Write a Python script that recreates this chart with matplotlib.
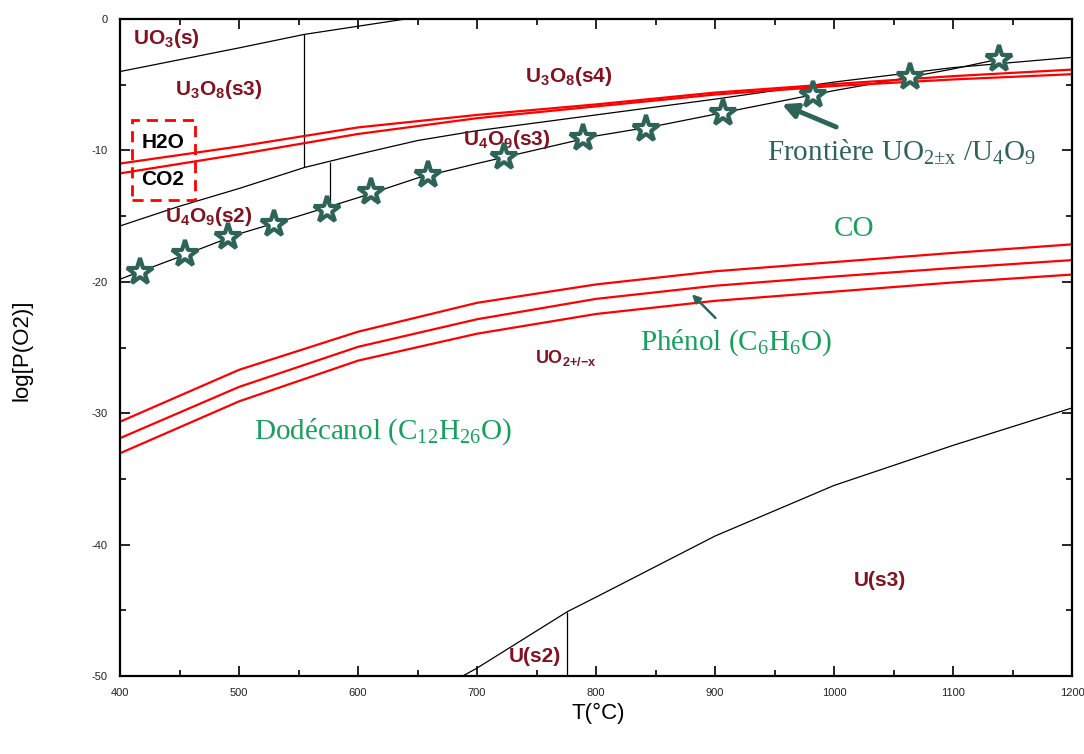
import matplotlib
matplotlib.use("Agg")
import matplotlib.pyplot as plt
from matplotlib.patches import Rectangle

# --- phase boundaries (T in degC, log P(O2)) ---
T_uo3 = [400, 500, 555, 600, 640]
logp_uo3 = [-4.0, -2.2, -1.17, -0.55, 0.0]

T_u3o8 = [400, 450, 500, 555, 600, 650, 700, 800, 900, 1000, 1100, 1200]
logp_u3o8 = [-15.75, -14.25, -12.9, -11.3, -10.3, -9.25, -8.5, -7.3, -6.1, -4.8, -3.7, -2.92]

T_u4o9 = [400, 450, 500, 550, 600, 650, 700, 750, 800, 850, 900, 950, 1000, 1050, 1100, 1139]
logp_u4o9 = [-19.8, -18.1, -16.35, -15.0, -13.6, -12.1, -11.0, -9.95, -8.9, -8.15,
             -7.25, -6.35, -5.45, -4.65, -3.8, -3.05]

T_u = [688, 700, 776, 800, 900, 1000, 1100, 1200]
logp_u = [-50.0, -49.4, -45.1, -44.0, -39.35, -35.5, -32.45, -29.6]

# vertical separators: (T, low, high)
T_sep = [555, 576.5, 776]
sep_low = [-11.3, -14.0, -50.0]
sep_high = [-1.17, -10.86, -45.1]

# experimental UO2+x / U4O9 boundary points
T_star = [417, 455, 491, 529, 574, 611, 659, 723, 789, 842, 907, 982, 1064, 1139]
logp_star = [-19.23, -17.9, -16.57, -15.6, -14.5, -13.14, -11.87, -10.53, -9.08,
             -8.4, -7.13, -5.78, -4.41, -3.04]

# gas equilibrium lines
T_gas = [400, 500, 600, 700, 800, 900, 1000, 1100, 1200]
logp_h2o = [-11.0, -9.7, -8.25, -7.3, -6.5, -5.6, -4.95, -4.35, -3.85]
logp_co2 = [-11.75, -10.3, -8.75, -7.55, -6.65, -5.75, -5.1, -4.6, -4.2]
logp_co = [-30.65, -26.7, -23.8, -21.6, -20.2, -19.2, -18.5, -17.8, -17.15]
logp_phenol = [-31.9, -28.0, -24.95, -22.85, -21.3, -20.3, -19.6, -18.95, -18.35]
logp_dodecanol = [-33.05, -29.1, -26.0, -23.95, -22.45, -21.45, -20.75, -20.05, -19.45]

DARKRED = '#82121f'
GREEN = '#17a05c'
TEAL = '#2e6457'
SERIF = 'Liberation Serif'

plt.rcParams['font.family'] = 'Liberation Sans'
plt.rcParams['axes.unicode_minus'] = False

fig = plt.figure(figsize=(10.84, 7.54), dpi=100)
ax = fig.add_axes([120 / 1084, 1 - 676 / 754, 952 / 1084, 657 / 754])

lw_b = 0.9
ax.plot(T_uo3, logp_uo3, color='black', lw=lw_b)
ax.plot(T_u3o8, logp_u3o8, color='black', lw=lw_b)
ax.plot(T_u4o9, logp_u4o9, color='black', lw=lw_b)
ax.plot(T_u, logp_u, color='black', lw=lw_b)
ax.vlines(T_sep, sep_low, sep_high, color='black', lw=lw_b)

for lp in [logp_h2o, logp_co2, logp_co, logp_phenol, logp_dodecanol]:
    ax.plot(T_gas, lp, color='red', lw=1.6)

ax.plot(T_star, logp_star, ls='none', marker='*', ms=20, mfc='white',
        mec=TEAL, mew=3, zorder=5)

# dashed box around H2O / CO2
ax.add_patch(Rectangle((410, -13.8), 53, 6.1, fill=False, ec='red', lw=2,
                       ls=(0, (4, 2.5)), zorder=4))
ax.text(436, -9.4, 'H2O', ha='center', va='center', fontsize=15,
        fontweight='bold', color='black')
ax.text(436, -12.25, 'CO2', ha='center', va='center', fontsize=15,
        fontweight='bold', color='black')

# phase labels
lab = dict(color=DARKRED, fontweight='bold', fontsize=15, va='center', ha='left')
ax.text(411, -1.45, r'UO$_{\mathregular{3}}$(s)', **lab)
ax.text(446, -5.4, r'U$_{\mathregular{3}}$O$_{\mathregular{8}}$(s3)', **lab)
ax.text(740, -4.35, r'U$_{\mathregular{3}}$O$_{\mathregular{8}}$(s4)', **lab)
ax.text(688, -9.2, r'U$_{\mathregular{4}}$O$_{\mathregular{9}}$(s3)', **lab)
ax.text(438, -15.0, r'U$_{\mathregular{4}}$O$_{\mathregular{9}}$(s2)', **lab)
ax.text(1017, -42.7, 'U(s3)', **lab)
ax.text(727, -48.55, 'U(s2)', **lab)
ax.text(749, -25.8, r'UO$_{\mathregular{2{+}/{-}x}}$', color=DARKRED, fontweight='bold',
        fontsize=13, va='center', ha='left')

# gas labels
ax.text(1017, -16.0, 'CO', color=GREEN, family=SERIF, fontsize=21, ha='center', va='center')
ax.text(837, -24.6, r'Phénol (C$_{\mathregular{6}}$H$_{\mathregular{6}}$O)', color=GREEN,
        family=SERIF, fontsize=21, ha='left', va='center')
ax.text(513, -31.4, r'Dodécanol (C$_{\mathregular{12}}$H$_{\mathregular{26}}$O)', color=GREEN,
        family=SERIF, fontsize=21, ha='left', va='center')
ax.annotate('', xy=(879, -20.8), xytext=(902, -22.9),
            arrowprops=dict(arrowstyle='-|>', color=TEAL, lw=1.8, mutation_scale=12))

ax.text(944, -10.1, r'Frontière UO$_{\mathregular{2±x}}$ /U$_{\mathregular{4}}$O$_{\mathregular{9}}$',
        color=TEAL, family=SERIF, fontsize=21, ha='left', va='center')
ax.annotate('', xy=(954, -6.4), xytext=(1004, -8.3),
            arrowprops=dict(arrowstyle='-|>', color=TEAL, lw=3.5, mutation_scale=22))

ax.set_xlim(400, 1200)
ax.set_ylim(-50, 0)
ax.set_xticks(range(400, 1201, 100))
ax.set_xticks(range(450, 1200, 100), minor=True)
ax.set_yticks(range(-50, 1, 10))
ax.set_yticks(range(-45, 0, 10), minor=True)
ax.tick_params(which='both', direction='in', top=True, right=True, colors='black',
               labelcolor='#222222', labelsize=8, width=1.2)
ax.tick_params(which='major', length=7, pad=9)
ax.tick_params(which='minor', length=4)
for sp in ax.spines.values():
    sp.set_linewidth(1.6)

fig.text(598 / 1084, 1 - 713 / 754, 'T(°C)', fontsize=16, ha='center', va='center')
fig.text(22 / 1084, 1 - 350 / 754, 'log[P(O2)]', fontsize=16, ha='center', va='center',
         rotation=90)

fig.savefig('out.png', dpi=100)
